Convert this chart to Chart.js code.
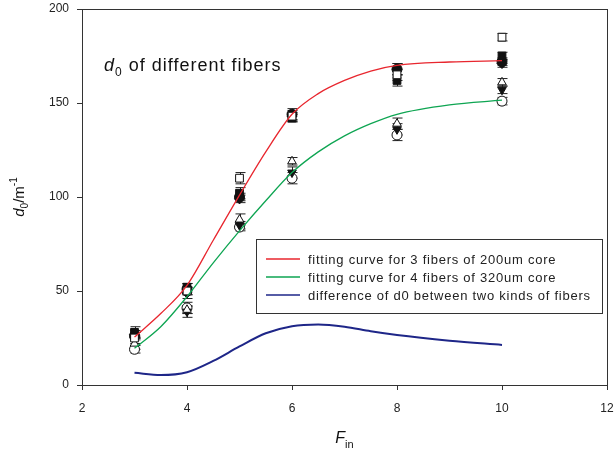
<!DOCTYPE html>
<html>
<head>
<meta charset="utf-8">
<script src="https://cdn.jsdelivr.net/npm/chart.js@4"></script>
<style>
  html, body { margin: 0; padding: 0; background: #fff; }
  canvas { display: block; }
</style>
</head>
<body>
<canvas id="c" width="614" height="454"></canvas>
<script>
// measured points (F_in)
const xPts = [3, 4, 5, 6, 8, 10];

// 200um group
const fillCircle = [26, 51, 100, 144, 168, 172];
const fillSquare = [28, 52, 102, 142, 162, 175];
const openSquare = [25, 50, 110, 143, 165, 185];
const fillDiamond = [27, 49, 99, 143, 168, 171];
// 320um group
const openCircle = [19, 41, 84, 110, 133, 151];
const openTriangle = [22, 40, 88, 119, 139, 161];
const fillTriDown = [24, 39, 85, 113, 136, 157];

const errA = [3, 2, 3, 2, 3, 2];
const errB = [2, 3, 2, 3, 3, 2];

// fitted curves
const fitX = [3, 3.5, 4, 4.5, 5, 5.5, 6, 6.5, 7, 7.5, 8, 9, 10];
const redFit = [25.5, 38, 53, 77, 101, 124, 144, 155, 162, 167, 170, 171.8, 172.5];
const greenFit = [19.5, 31, 47, 65, 82, 98, 113, 124, 132.5, 139, 144, 149, 151.5];
const blueDiff = [6.5, 5.3, 6.8, 12.8, 20.5, 27.5, 31.3, 32.2, 31, 28.6, 26.6, 23.6, 21.3];

const xTicks = [2, 4, 6, 8, 10, 12];
const yTicks = [0, 50, 100, 150, 200];

const legendLabels = [
  'fitting curve for 3 fibers of 200um core',
  'fitting curve for 4 fibers of 320um core',
  'difference of d0 between two kinds of fibers'
];

const RED = '#e8262e', GREEN = '#0ea552', NAVY = '#1e2688';
const FONT = '"Liberation Sans", Arial, sans-serif';

const pts = (xs, ys) => xs.map((x, i) => ({ x, y: ys[i] }));

function scatterSet(ys, errs, style, filled, rot) {
  return {
    type: 'scatter',
    data: pts(xPts, ys),
    errors: errs,
    pointStyle: style,
    rotation: rot || 0,
    pointRadius: style === 'rect' ? 5.5 : 5,
    backgroundColor: filled ? '#111' : '#fff',
    borderColor: '#111',
    borderWidth: 1,
    order: 2
  };
}

function lineSet(label, ys, color) {
  return {
    type: 'line',
    label,
    data: pts(fitX, ys),
    borderColor: color,
    backgroundColor: color,
    borderWidth: color === NAVY ? 2 : 1.3,
    pointRadius: 0,
    cubicInterpolationMode: 'monotone',
    fill: false,
    order: 0
  };
}

// rich text: parts = [{t, italic, shift, size}]
function drawRich(ctx, parts, x, y, base, align) {
  let w = 0;
  parts.forEach(p => {
    ctx.font = (p.italic ? 'italic ' : '') + (p.size || base) + 'px ' + FONT;
    p.w = ctx.measureText(p.t).width;
    w += p.w;
  });
  let cx = align === 'center' ? x - w / 2 : x;
  parts.forEach(p => {
    ctx.font = (p.italic ? 'italic ' : '') + (p.size || base) + 'px ' + FONT;
    ctx.fillText(p.t, cx, y + (p.shift || 0));
    cx += p.w;
  });
}

const extras = {
  id: 'extras',
  beforeDatasetsDraw(chart) {
    const { ctx, scales: { x, y } } = chart;
    ctx.save();
    ctx.strokeStyle = '#222';
    ctx.lineWidth = 1;
    chart.data.datasets.forEach(ds => {
      if (!ds.errors) return;
      ds.data.forEach((p, i) => {
        const px = Math.round(x.getPixelForValue(p.x)) + 0.5;
        const top = y.getPixelForValue(p.y + ds.errors[i]);
        const bot = y.getPixelForValue(p.y - ds.errors[i]);
        ctx.beginPath();
        ctx.moveTo(px, top); ctx.lineTo(px, bot);
        ctx.moveTo(px - 5, top); ctx.lineTo(px + 5, top);
        ctx.moveTo(px - 5, bot); ctx.lineTo(px + 5, bot);
        ctx.stroke();
      });
    });
    ctx.restore();
  },
  afterDraw(chart) {
    const { ctx, chartArea: a } = chart;
    ctx.save();
    // frame
    ctx.strokeStyle = '#333';
    ctx.lineWidth = 1;
    ctx.strokeRect(Math.round(a.left) + 0.5, Math.round(a.top) + 0.5,
      Math.round(a.right - a.left), Math.round(a.bottom - a.top));

    ctx.fillStyle = '#111';
    ctx.textBaseline = 'alphabetic';
    // in-plot title
    ctx.letterSpacing = '1px';
    drawRich(ctx, [
      { t: 'd', italic: true },
      { t: '0', size: 12, shift: 5 },
      { t: ' of different fibers' }
    ], 104, 71, 18, 'left');
    ctx.letterSpacing = '0px';

    // x title
    drawRich(ctx, [
      { t: 'F', italic: true },
      { t: 'in', size: 11, shift: 5 }
    ], (a.left + a.right) / 2, 443, 16, 'center');

    // y title
    ctx.save();
    ctx.translate(24, (a.top + a.bottom) / 2);
    ctx.rotate(-Math.PI / 2);
    drawRich(ctx, [
      { t: 'd', italic: true },
      { t: '0', size: 10, shift: 4 },
      { t: '/m' },
      { t: '-1', size: 10, shift: -7 }
    ], 0, 0, 15, 'center');
    ctx.restore();

    // legend box
    const lx = 256, ly = 239, lw = 346, lh = 74;
    ctx.fillStyle = '#fff';
    ctx.fillRect(lx, ly, lw, lh);
    ctx.strokeStyle = '#333';
    ctx.strokeRect(lx + 0.5, ly + 0.5, lw, lh);
    const lines = chart.data.datasets.filter(d => d.label);
    ctx.font = '13px ' + FONT;
    ctx.letterSpacing = '0.75px';
    ctx.textBaseline = 'middle';
    lines.forEach((d, i) => {
      const yy = ly + 20 + i * 18;
      ctx.strokeStyle = d.borderColor;
      ctx.lineWidth = 1.3;
      ctx.beginPath();
      ctx.moveTo(266, yy); ctx.lineTo(300, yy);
      ctx.stroke();
      ctx.fillStyle = '#222';
      ctx.fillText(d.label, 308, yy + 1);
    });
    ctx.restore();
  }
};

new Chart(document.getElementById('c'), {
  type: 'scatter',
  data: {
    datasets: [
      lineSet(legendLabels[0], redFit, RED),
      lineSet(legendLabels[1], greenFit, GREEN),
      lineSet(legendLabels[2], blueDiff, NAVY),
      scatterSet(openSquare, errA, 'rect', false),
      scatterSet(fillSquare, errA, 'rect', true),
      scatterSet(fillDiamond, errB, 'rectRot', true),
      scatterSet(fillCircle, errB, 'circle', true),
      scatterSet(openTriangle, errA, 'triangle', false),
      scatterSet(fillTriDown, errB, 'triangle', true, 180),
      scatterSet(openCircle, errB, 'circle', false)
    ]
  },
  options: {
    responsive: false,
    animation: false,
    devicePixelRatio: 1,
    layout: { padding: { top: 9, right: 7, left: 0, bottom: 0 } },
    plugins: { legend: { display: false }, tooltip: { enabled: false } },
    scales: {
      x: {
        type: 'linear',
        min: 2, max: 12,
        afterBuildTicks: s => { s.ticks = xTicks.map(v => ({ value: v })); },
        afterFit: s => { s.height = 69; s.paddingLeft = 0; s.paddingRight = 0; },
        grid: { drawOnChartArea: false, tickLength: 5, color: '#333' },
        border: { color: '#333' },
        ticks: { color: '#222', padding: 11, font: { family: FONT, size: 12 } }
      },
      y: {
        type: 'linear',
        min: 0, max: 200,
        afterBuildTicks: s => { s.ticks = yTicks.map(v => ({ value: v })); },
        afterFit: s => { s.width = 82; s.paddingTop = 0; s.paddingBottom = 0; },
        grid: { drawOnChartArea: false, tickLength: 5, color: '#333' },
        border: { color: '#333' },
        ticks: { color: '#222', padding: 8, font: { family: FONT, size: 12 } }
      }
    }
  },
  plugins: [extras]
});
</script>
</body>
</html>
